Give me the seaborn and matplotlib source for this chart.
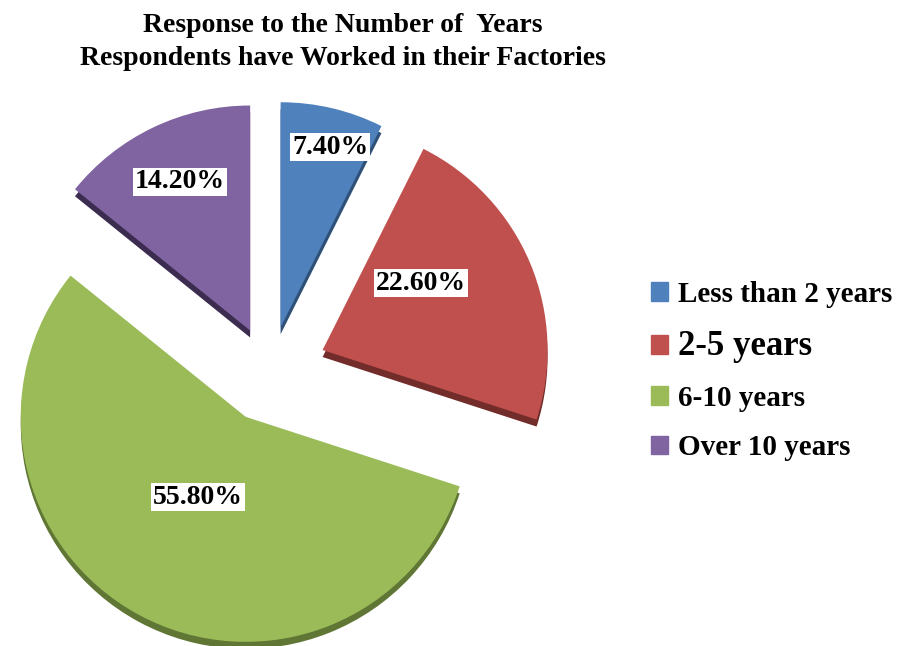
import matplotlib
matplotlib.use("Agg")
import matplotlib.pyplot as plt
import matplotlib.patches as mpatches
import seaborn as sns

# data
categories = ["Less than 2 years", "2-5 years", "6-10 years", "Over 10 years"]
shares = [7.4, 22.6, 55.8, 14.2]
pct_labels = ["7.40%", "22.60%", "55.80%", "14.20%"]

# styling
sns.set_style("white")
plt.rcParams["font.family"] = ["Liberation Serif", "DejaVu Serif"]
plt.rcParams["text.color"] = "black"
top_colors = ["#4F81BD", "#C0504D", "#9BBB59", "#8064A2"]
side_colors = ["#2f5078", "#722c2a", "#5f7634", "#3b2c50"]

fig = plt.figure(figsize=(9.06, 6.46), dpi=100)
ax = fig.add_axes([0, 0, 1, 1])

cx, cy, r = 270, 646 - 372, 225
explode = [46, 57, 51, 46]  # matplotlib explode is in data units (pixels here)
depth = 7
# side of the 3D pie: darker copy shifted down
ax.pie(shares, colors=side_colors, startangle=90, counterclock=False,
       explode=explode, center=(cx, cy - depth), radius=r,
       wedgeprops=dict(linewidth=0))
wedges, _, autotexts = ax.pie(
    shares, colors=top_colors, startangle=90, counterclock=False,
    explode=explode, center=(cx, cy), radius=r, autopct="%.1f%%",
    pctdistance=0.6, wedgeprops=dict(linewidth=0))

# place value labels in white boxes
label_pos = [(330, 499), (421, 363), (198, 149), (180, 464)]
for t, txt, (x, y) in zip(autotexts, pct_labels, label_pos):
    t.set_text(txt)
    t.set_position((x, y))
    t.set_fontsize(20)
    t.set_fontweight("bold")
    t.set_color("black")
    t.set_bbox(dict(facecolor="white", edgecolor="none", pad=1.5))

ax.set_xlim(0, 906)
ax.set_ylim(0, 646)
ax.set_aspect("equal")
ax.axis("off")

fig.text(343, 646 - 42, "Response to the Number of  Years\nRespondents have Worked in their Factories",
         transform=None, ha="center", va="center", fontsize=20, color="black",
         fontweight="bold", linespacing=1.45)

handles = [mpatches.Patch(color=c) for c in top_colors]
leg = ax.legend(handles, categories, loc="upper left",
                bbox_to_anchor=(636 / 906, 1 - 266 / 646), frameon=False,
                prop={"weight": "bold", "size": 21}, handlelength=0.6,
                handleheight=0.6, handletextpad=0.35, labelspacing=0.76,
                borderpad=0, labelcolor="black")
leg.get_texts()[1].set_fontsize(25)

fig.savefig("out.png", dpi=100)
